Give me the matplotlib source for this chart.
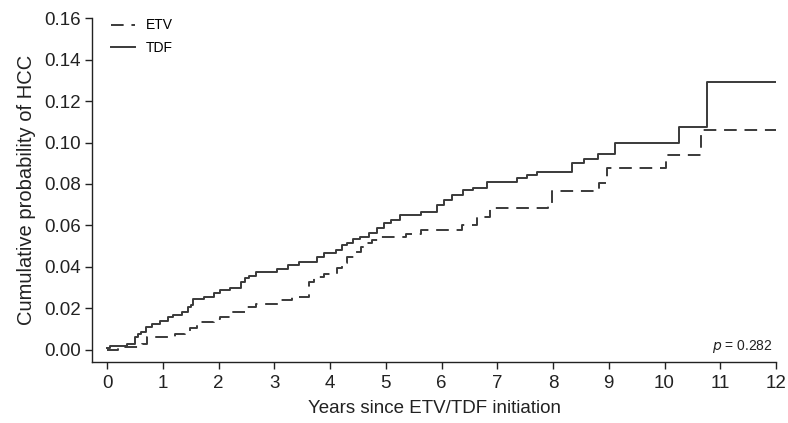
import numpy as np
import matplotlib
matplotlib.use("Agg")
import matplotlib.pyplot as plt

plt.rcParams["font.family"] = ["Liberation Sans", "DejaVu Sans"]

# Kaplan-Meier style cumulative incidence, step change times (years) and levels
ETV_TIME = [0.0, 0.20, 0.62, 0.71, 1.22, 1.40, 1.49, 1.61, 1.91, 2.03, 2.21,
            2.50, 2.68, 3.06, 3.31, 3.63, 3.72, 3.90, 4.12, 4.22, 4.30, 4.45,
            4.55, 4.65, 4.75, 4.90, 5.37, 5.63, 6.36, 6.63, 6.87, 7.91, 7.99,
            8.82, 8.97, 10.03, 10.66, 12.0]
ETV_PROB = [0.0, 0.0016, 0.0029, 0.0064, 0.0075, 0.0088, 0.0104, 0.0133,
            0.0148, 0.0160, 0.0185, 0.0209, 0.0222, 0.0241, 0.0254, 0.0330,
            0.0353, 0.0366, 0.0394, 0.0420, 0.0450, 0.0474, 0.0498, 0.0517,
            0.0530, 0.0546, 0.0558, 0.0578, 0.0600, 0.0641, 0.0682, 0.0710,
            0.0766, 0.0804, 0.0879, 0.0940, 0.1058, 0.1058]

TDF_TIME = [0.0, 0.05, 0.35, 0.50, 0.55, 0.60, 0.70, 0.80, 0.95, 1.10, 1.18,
            1.34, 1.45, 1.50, 1.55, 1.73, 1.91, 2.03, 2.21, 2.40, 2.47, 2.55,
            2.68, 3.04, 3.25, 3.45, 3.76, 3.90, 4.10, 4.22, 4.30, 4.42, 4.54,
            4.70, 4.84, 4.97, 5.10, 5.26, 5.63, 5.92, 6.04, 6.18, 6.38, 6.57,
            6.81, 7.35, 7.53, 7.72, 8.34, 8.55, 8.80, 9.12, 10.26, 10.76, 12.0]
TDF_PROB = [0.0010, 0.0020, 0.0029, 0.0064, 0.0075, 0.0088, 0.0112, 0.0125,
            0.0141, 0.0157, 0.0169, 0.0185, 0.0205, 0.0217, 0.0244, 0.0257,
            0.0273, 0.0290, 0.0300, 0.0330, 0.0345, 0.0357, 0.0378, 0.0389,
            0.0410, 0.0426, 0.0450, 0.0466, 0.0482, 0.0506, 0.0514, 0.0533,
            0.0546, 0.0565, 0.0586, 0.0610, 0.0627, 0.0650, 0.0667, 0.0699,
            0.0723, 0.0747, 0.0771, 0.0782, 0.0811, 0.0827, 0.0843, 0.0860,
            0.0900, 0.0920, 0.0945, 0.0996, 0.1076, 0.1293, 0.1293]

X_TICKS = list(range(0, 13))
Y_TICKS = [0.00, 0.02, 0.04, 0.06, 0.08, 0.10, 0.12, 0.14, 0.16]
P_VALUE = 0.282

LINE_COLOR = "#3a3a3a"
TEXT_COLOR = "#222222"

fig = plt.figure(figsize=(7.88, 4.23), dpi=100)
ax = fig.add_axes([0.1168, 0.1442, 0.868, 0.8132])

ax.step(ETV_TIME, ETV_PROB, where="post", color=LINE_COLOR, lw=1.4,
        dashes=(6.5, 4), label="ETV")
ax.step(TDF_TIME, TDF_PROB, where="post", color=LINE_COLOR, lw=1.4,
        label="TDF")

ax.set_xlim(-0.27, 12.0)
ax.set_ylim(-0.0058, 0.16)
ax.set_xticks(X_TICKS)
ax.set_yticks(Y_TICKS)
ax.set_yticklabels([f"{v:.2f}" for v in Y_TICKS])

for side in ["top", "right"]:
    ax.spines[side].set_visible(False)
for side in ["left", "bottom"]:
    ax.spines[side].set_color(TEXT_COLOR)
    ax.spines[side].set_linewidth(1.0)

ax.tick_params(axis="both", labelsize=13.5, length=5, width=1.0,
               color=TEXT_COLOR, labelcolor=TEXT_COLOR)
ax.tick_params(axis="x", pad=4)
ax.tick_params(axis="y", pad=3)

ax.set_xlabel("Years since ETV/TDF initiation", fontsize=13.5,
              color=TEXT_COLOR, labelpad=6)
ax.set_ylabel("Cumulative probability of HCC", fontsize=14.5,
              color=TEXT_COLOR, labelpad=6)

ax.legend(loc="upper left", bbox_to_anchor=(0.01, 1.035), frameon=False,
          fontsize=10, handlelength=1.7, handletextpad=0.8, labelspacing=0.6)

ax.text(0.995, 0.045, f"$p$ = {P_VALUE:.3f}", transform=ax.transAxes,
        ha="right", va="center", fontsize=10, color=TEXT_COLOR)

fig.savefig("out.png", dpi=100)
